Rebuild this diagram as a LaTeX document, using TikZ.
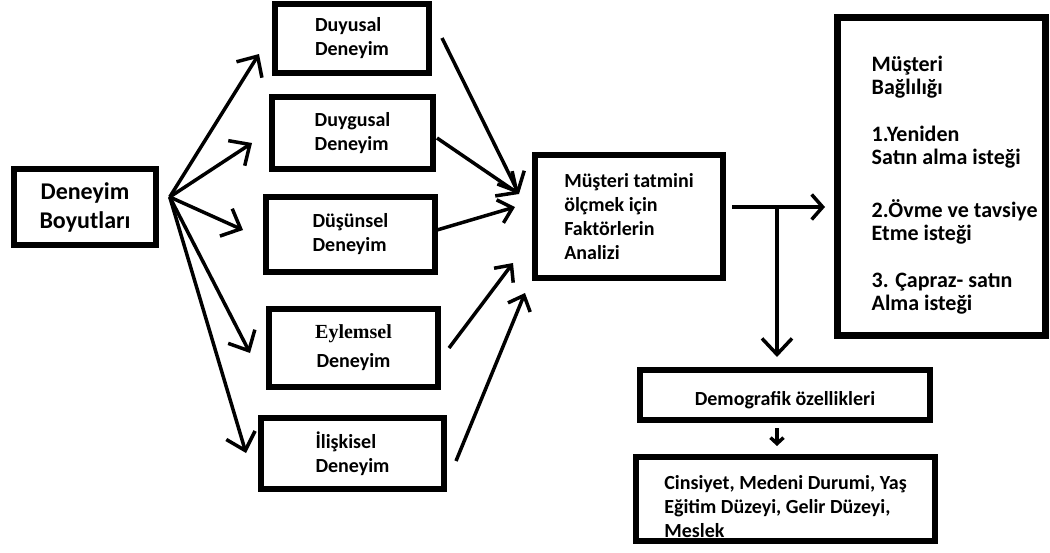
\documentclass[tikz,border=0pt]{standalone}
\usepackage{fontspec}
\setmainfont{Carlito}
\newfontfamily\serifb{Liberation Serif}
\usetikzlibrary{arrows.meta,calc}
\begin{document}
\begin{tikzpicture}[x=1pt,y=-1pt,
  box/.style={draw, line width=5.5pt, inner sep=0pt, align=left,
    font=\bfseries\fontsize{20}{24}\selectfont},
  arr/.style={line width=3.5pt, -{Straight Barb[length=16pt,width=30pt]}},
  arrm/.style={line width=3.5pt, -{Straight Barb[length=13pt,width=24pt]}},
  arrs/.style={line width=3.5pt, -{Straight Barb[length=6pt,width=13pt]}}]
\useasboundingbox (0,0) rectangle (1050,552);
% nodes
\node[box, minimum width=142pt, minimum height=76pt, align=center,
  font=\bfseries\fontsize{24}{29}\selectfont] (L) at (85,207) {Deneyim\\Boyutları};
\node[box, minimum width=154pt, minimum height=69pt] (D1) at (352,38.5) {Duyusal\\Deneyim};
\node[box, minimum width=161pt, minimum height=72pt] (D2) at (352.5,133) {Duygusal\\Deneyim};
\node[box, minimum width=169pt, minimum height=75pt] (D3) at (350.5,234.5) {Düşünsel\\Deneyim};
\node[box, minimum width=169pt, minimum height=78pt, align=center,
  font=\bfseries\fontsize{20}{29}\selectfont] (D4) at (353.5,348) {{\serifb Eylemsel}\\Deneyim};
\node[box, minimum width=183pt, minimum height=71pt] (D5) at (352.5,453.5) {İlişkisel\\Deneyim};
\node[box, minimum width=188pt, minimum height=123pt] (C) at (629,216.5)
  {Müşteri tatmini\\ölçmek için\\Faktörlerin\\Analizi};
\node[box, line width=7pt, minimum width=208pt, minimum height=318pt] (R) at (941,176) {};
\node[inner sep=0pt, anchor=north west, align=left,
  font=\bfseries\fontsize{22}{23}\selectfont] (Rt) at ($(R.north west)+(38,42)$)
  {Müşteri\\Bağlılığı\\[24pt]1.Yeniden\\Satın alma isteği\\[30pt]2.Övme ve tavsiye\\Etme isteği\\[24pt]3. Çapraz- satın\\Alma isteği};
\node[box, minimum width=290pt, minimum height=50pt, align=center] (Dm) at (785,395)
  {\rule{0pt}{25pt}Demografik özellikleri};
\node[box, minimum width=299pt, minimum height=84pt] (Cs) at (785.5,499)
  {\rule{0pt}{30pt}Cinsiyet, Medeni Durumi, Yaş\\Eğitim Düzeyi, Gelir Düzeyi,\\Meslek};
% connector points
\coordinate (o) at ($(L.east)+(11,-10)$);
\coordinate (t1) at (259,54);
\coordinate (t2) at (252,143);
\coordinate (t3) at (243,230);
\coordinate (t4) at (250,353);
\coordinate (t5) at (246,453);
\coordinate (s1) at (442,38);
\coordinate (s2) at (437,138);
\coordinate (s3) at (437,230);
\coordinate (s4) at (449,348);
\coordinate (s5) at (456,461);
\coordinate (c1) at (519,194);
\coordinate (c3) at (515,207);
\coordinate (c4) at (513,263);
\coordinate (c5) at (525,293);
\coordinate (h0) at (732,207);
\coordinate (h1) at (825,207);
\coordinate (v0) at (777,207);
\coordinate (v1) at (777,357);
\coordinate (a0) at (777,428);
\coordinate (a1) at (777,446);
% connectors
\foreach \t in {t1,t2,t3,t4,t5} \draw[arr] (o) -- (\t);
\draw[arr] (s1) -- (c1);
\draw[arr] (s2) -- (c1);
\draw[arrm] (s3) -- (c3);
\draw[arrm] (s4) -- (c4);
\draw[arrm] (s5) -- (c5);
\draw[line width=3.5pt, -{Straight Barb[length=11pt,width=25pt]}] (h0) -- (h1);
\draw[arr] (v0) -- (v1);
\draw[arrs] (a0) -- (a1);
\end{tikzpicture}
\end{document}
